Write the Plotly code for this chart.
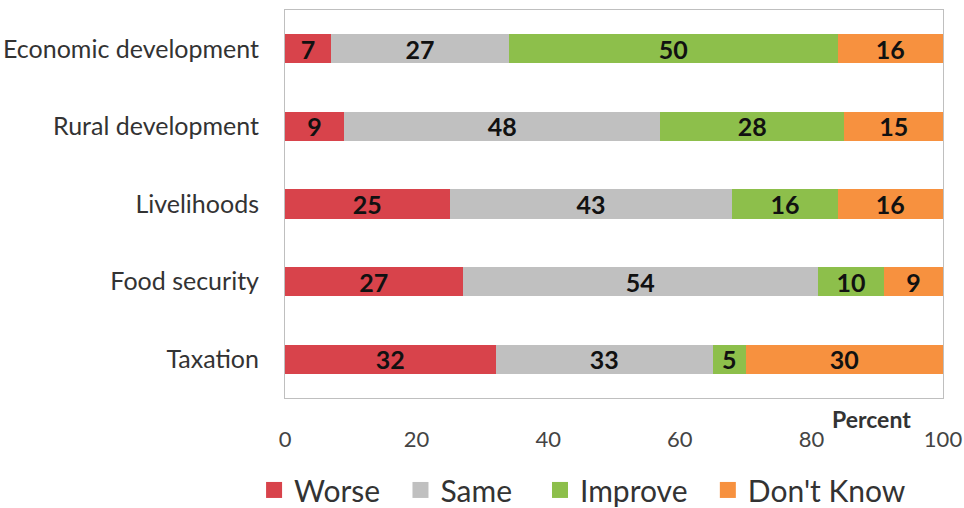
import plotly.graph_objects as go

categories = ["Economic development", "Rural development", "Livelihoods", "Food security", "Taxation"]
worse = [7, 9, 25, 27, 32]
same = [27, 48, 43, 54, 33]
improve = [50, 28, 16, 10, 5]
dont_know = [16, 15, 16, 9, 30]

series = [
    ("Worse", worse, "#d8434b"),
    ("Same", same, "#c0c0c0"),
    ("Improve", improve, "#8dbf4b"),
    ("Don't Know", dont_know, "#f7913f"),
]
# trailing non-breaking spaces widen the gap after each legend entry
legend_pad = [2, 3, 2, 0]

FONT = "Lato, Open Sans, sans-serif"

fig = go.Figure()
for (name, vals, color), pad in zip(series, legend_pad):
    fig.add_trace(go.Bar(
        name=name,
        y=categories,
        x=vals,
        orientation="h",
        marker=dict(color=color, line=dict(width=0)),
        text=[f"<b>{v}</b>" for v in vals],
        textposition="inside",
        insidetextanchor="middle",
        textangle=0,
        textfont=dict(family=FONT, size=25, color="#111111"),
        constraintext="none",
        showlegend=False,
    ))
    # legend entry drawn with a larger square swatch
    fig.add_trace(go.Scatter(
        name=name + "\u00a0" * pad,
        x=[None], y=[None],
        mode="markers",
        marker=dict(symbol="square", size=18, color=color),
        showlegend=True,
    ))

fig.update_layout(
    barmode="stack",
    bargap=0.625,
    width=964,
    height=508,
    margin=dict(l=285, r=21, t=10, b=110, autoexpand=False),
    paper_bgcolor="white",
    plot_bgcolor="white",
    font=dict(family=FONT, color="#333333"),
    showlegend=True,
    legend=dict(
        orientation="h",
        x=-0.047, xref="paper", xanchor="left",
        y=-0.237, yanchor="middle",
        font=dict(size=30, color="#333333"),
        traceorder="normal",
        itemwidth=30,
    ),
)

fig.update_xaxes(
    range=[0, 100],
    tickvals=[0, 20, 40, 60, 80, 100],
    showgrid=False,
    zeroline=False,
    showline=True,
    linecolor="#bfbfbf",
    linewidth=1,
    mirror=True,
    ticks="",
    ticklabelstandoff=22,
    tickfont=dict(size=22, color="#444444"),
)
fig.update_yaxes(
    categoryorder="array",
    categoryarray=categories[::-1],
    range=[-0.5, 4.5],
    showgrid=False,
    showline=True,
    linecolor="#bfbfbf",
    linewidth=1,
    mirror=True,
    ticks="",
    ticklabelstandoff=20,
    tickfont=dict(size=25, color="#333333"),
)

fig.add_annotation(
    text="<b>Percent</b>", x=89.2, xref="x", y=0, yref="paper",
    yshift=-21, showarrow=False, xanchor="center", yanchor="middle",
    font=dict(family=FONT, size=23, color="#333333"),
)

fig.write_html("out.html")
